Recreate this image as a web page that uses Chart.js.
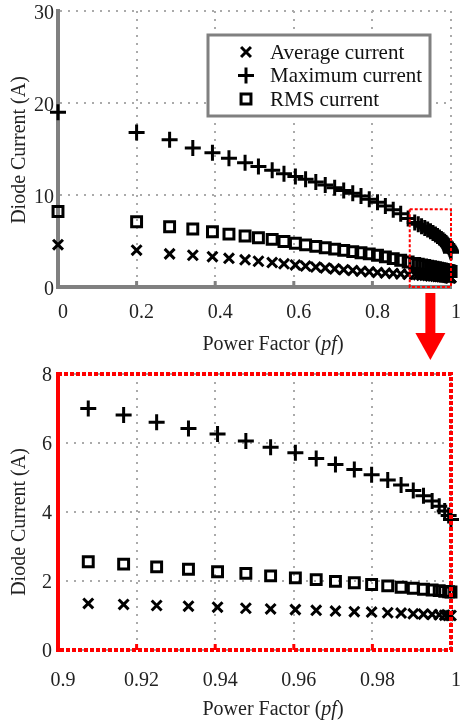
<!DOCTYPE html>
<html>
<head>
<meta charset="utf-8">
<script src="https://cdn.jsdelivr.net/npm/chart.js@4.4.1/dist/chart.umd.min.js"></script>
<style>
  html, body { margin: 0; padding: 0; background: #fff; }
  #wrap { position: relative; width: 462px; height: 724px; overflow: hidden; }
  canvas { position: absolute; left: 0; }
  .title {
    position: absolute;
    font-family: 'Liberation Serif', 'Times New Roman', serif;
    font-size: 20px;
    color: #222;
    white-space: nowrap;
    line-height: 1;
    transform: translate(-50%, -50%);
  }
  .title.rot { transform: translate(-50%, -50%) rotate(-90deg); }
</style>
</head>
<body>
<div id="wrap">
  <canvas id="chart-full" width="462" height="362" style="top:0"></canvas>
  <canvas id="chart-zoom" width="462" height="362" style="top:362px"></canvas>
  <div class="title rot" style="left:18px; top:150px">Diode Current (A)</div>
  <div class="title" style="left:273px; top:343px">Power Factor (<i>pf</i>)</div>
  <div class="title rot" style="left:18px; top:522px">Diode Current (A)</div>
  <div class="title" style="left:273px; top:708px">Power Factor (<i>pf</i>)</div>
</div>
<script>
// --- data ---
const SERIES = ['Average current', 'Maximum current', 'RMS current'];

// pf < 0.9 (coarse steps, only in the full-range plot)
const pfCoarse  = [0, 0.2, 0.284, 0.343, 0.393, 0.435, 0.476, 0.51, 0.545, 0.575, 0.604, 0.63,
                   0.656, 0.68, 0.704, 0.727, 0.75, 0.771, 0.792, 0.813, 0.833, 0.853, 0.872, 0.891];
const avgCoarse = [4.6, 4.0, 3.6, 3.45, 3.3, 3.12, 2.95, 2.8, 2.66, 2.52, 2.4, 2.28,
                   2.17, 2.07, 1.97, 1.88, 1.8, 1.72, 1.65, 1.58, 1.52, 1.47, 1.42, 1.38];
const maxCoarse = [19.0, 16.8, 16.0, 15.1, 14.6, 14.0, 13.5, 13.1, 12.7, 12.3, 12.0, 11.7,
                   11.4, 11.1, 10.8, 10.5, 10.2, 9.9, 9.55, 9.2, 8.8, 8.4, 7.95, 7.45];
const rmsCoarse = [8.2, 7.1, 6.55, 6.3, 6.0, 5.75, 5.54, 5.36, 5.18, 4.95, 4.75, 4.58,
                   4.42, 4.27, 4.12, 3.98, 3.84, 3.72, 3.6, 3.45, 3.27, 3.08, 2.9, 2.72];

// 0.9 <= pf <= 1 (fine steps, shown in both plots)
const pfFine  = [0.9077, 0.9167, 0.9251, 0.9332, 0.9406, 0.9478, 0.9541, 0.9604, 0.9657, 0.9706, 0.9754,
                 0.9798, 0.9839, 0.9873, 0.9904, 0.993, 0.9952, 0.997, 0.9984, 0.9994, 1.0];
const avgFine = [1.35, 1.32, 1.29, 1.27, 1.24, 1.21, 1.19, 1.17, 1.15, 1.13, 1.11,
                 1.1, 1.08, 1.07, 1.05, 1.04, 1.03, 1.02, 1.01, 1.0, 1.0];
const maxFine = [7.0, 6.81, 6.6, 6.42, 6.26, 6.06, 5.88, 5.72, 5.55, 5.38, 5.23,
                 5.08, 4.93, 4.78, 4.62, 4.47, 4.32, 4.17, 4.03, 3.9, 3.78];
const rmsFine = [2.56, 2.49, 2.41, 2.34, 2.27, 2.22, 2.15, 2.09, 2.04, 1.99, 1.95,
                 1.9, 1.86, 1.82, 1.79, 1.76, 1.74, 1.72, 1.7, 1.69, 1.68];

const xTicksFull = [0, 0.2, 0.4, 0.6, 0.8, 1];
const yTicksFull = [0, 10, 20, 30];
const xTicksZoom = [0.9, 0.92, 0.94, 0.96, 0.98, 1];
const yTicksZoom = [0, 2, 4, 6, 8];

// region of the full plot that is blown up below
const zoomRegion = { xMin: 0.895, xMax: 1, yMin: 0, yMax: 8.45 };

// --- look ---
const FONT = "'Liberation Serif', 'Times New Roman', serif";
const GRID = { color: '#aaa', lineWidth: 2, drawTicks: false };
const AXIS_GRAY = '#808080';
const RED = '#ff0000';

const pts = (xs, ys) => xs.map((x, i) => ({ x, y: ys[i] }));
const fixTicks = arr => scale => { scale.ticks = arr.map(v => ({ value: v })); };

function seriesSets(pf, avg, max, rms) {
  const common = {
    pointBorderColor: '#000',
    pointBackgroundColor: 'rgba(0,0,0,0)',
    pointBorderWidth: 3,
    showLine: false,
    clip: false,
  };
  return [
    { ...common, label: SERIES[0], data: pts(pf, avg), pointStyle: 'crossRot', pointRadius: 7 },
    { ...common, label: SERIES[1], data: pts(pf, max), pointStyle: 'cross', pointRadius: 8 },
    { ...common, label: SERIES[2], data: pts(pf, rms), pointStyle: 'rect', pointRadius: 7 },
  ];
}

// small ticks pointing into the plot on the bottom axis
const innerTicks = {
  id: 'innerTicks',
  afterDraw(chart, args, opts) {
    const { ctx, chartArea: a, scales: { x } } = chart;
    ctx.save();
    ctx.strokeStyle = opts.color;
    ctx.lineWidth = 3;
    x.ticks.forEach(t => {
      const px = x.getPixelForValue(t.value);
      if (px <= a.left + 2 || px >= a.right - 2) return;
      ctx.beginPath();
      ctx.moveTo(px, a.bottom);
      ctx.lineTo(px, a.bottom - 6);
      ctx.stroke();
    });
    ctx.restore();
  }
};

// legend drawn as a framed box inside the plot
const boxLegend = {
  id: 'boxLegend',
  afterDraw(chart, args, opts) {
    if (!opts.box) return;
    const { ctx } = chart;
    const b = opts.box;
    ctx.save();
    ctx.fillStyle = '#fff';
    ctx.fillRect(b.left, b.top, b.width, b.height);
    ctx.strokeStyle = AXIS_GRAY;
    ctx.lineWidth = 3;
    ctx.strokeRect(b.left, b.top, b.width, b.height);
    ctx.font = `${opts.fontSize}px ${FONT}`;
    ctx.textBaseline = 'middle';
    chart.data.datasets.forEach((ds, i) => {
      const cy = b.top + opts.firstRow + i * opts.rowGap;
      const cx = b.left + opts.markerX;
      ctx.save();
      ctx.strokeStyle = '#000';
      ctx.fillStyle = 'rgba(0,0,0,0)';
      ctx.lineWidth = ds.pointBorderWidth;
      Chart.helpers.drawPoint(ctx, {
        pointStyle: ds.pointStyle, radius: ds.pointRadius,
        borderWidth: ds.pointBorderWidth, rotation: 0
      }, cx, cy);
      ctx.restore();
      ctx.fillStyle = '#111';
      ctx.fillText(ds.label, b.left + opts.textX, cy + 1);
    });
    ctx.restore();
  }
};

// dashed red box around the zoomed region + arrow pointing down
const zoomMark = {
  id: 'zoomMark',
  afterDraw(chart, args, opts) {
    if (!opts.region) return;
    const { ctx, chartArea: a, scales: { x, y } } = chart;
    const r = opts.region;
    const x0 = x.getPixelForValue(r.xMin), x1 = x.getPixelForValue(r.xMax);
    const y0 = y.getPixelForValue(r.yMax), y1 = y.getPixelForValue(r.yMin);
    ctx.save();
    ctx.strokeStyle = RED;
    ctx.lineWidth = 2;
    ctx.setLineDash([3, 2]);
    ctx.strokeRect(x0, y0, x1 - x0, y1 - y0);
    ctx.setLineDash([]);
    const cx = (x0 + x1) / 2;
    const top = a.bottom + 6, neck = a.bottom + 46, tip = a.bottom + 73;
    ctx.fillStyle = RED;
    ctx.fillRect(cx - 5, top, 10, neck - top);
    ctx.beginPath();
    ctx.moveTo(cx - 15, neck);
    ctx.lineTo(cx + 15, neck);
    ctx.lineTo(cx, tip);
    ctx.closePath();
    ctx.fill();
    ctx.restore();
  }
};

// red dotted frame around the zoomed plot
const redFrame = {
  id: 'redFrame',
  afterDraw(chart, args, opts) {
    if (!opts.on) return;
    const { ctx, chartArea: a } = chart;
    ctx.save();
    ctx.strokeStyle = RED;
    ctx.lineWidth = 4;
    ctx.beginPath();
    ctx.moveTo(a.left, a.bottom + 2);
    ctx.lineTo(a.left, a.top - 2);
    ctx.stroke();
    ctx.setLineDash([4, 2]);
    ctx.beginPath();
    ctx.moveTo(a.left, a.top);
    ctx.lineTo(a.right, a.top);
    ctx.lineTo(a.right, a.bottom);
    ctx.lineTo(a.left, a.bottom);
    ctx.stroke();
    ctx.restore();
  }
};

function makeChart(id, cfg) {
  return new Chart(document.getElementById(id), {
    type: 'scatter',
    data: { datasets: cfg.datasets },
    plugins: [redFrame, innerTicks, zoomMark, boxLegend],
    options: {
      responsive: false,
      animation: false,
      events: [],
      layout: { padding: { top: cfg.padTop, right: 8, left: 0, bottom: 0 } },
      plugins: {
        legend: { display: false },
        tooltip: { enabled: false },
        innerTicks: { color: cfg.tickColor },
        boxLegend: cfg.legend || {},
        zoomMark: { region: cfg.region },
        redFrame: { on: !!cfg.frame },
      },
      scales: {
        x: {
          type: 'linear',
          min: cfg.xMin, max: cfg.xMax,
          afterBuildTicks: fixTicks(cfg.xTicks),
          // fixed axis band; labels may hang over the edges like in the figure
          afterFit: s => { s.height = cfg.xAxisH; s.paddingLeft = 0; s.paddingRight = 0; },
          grid: GRID,
          border: { display: !cfg.frame, color: AXIS_GRAY, width: 4, dash: [2, 6] },
          ticks: {
            font: { family: FONT, size: 20 }, color: '#222',
            padding: cfg.xPad, labelOffset: 5, maxRotation: 0,
            callback: v => String(+v.toFixed(2)),
          },
        },
        y: {
          type: 'linear',
          min: cfg.yMin, max: cfg.yMax,
          afterBuildTicks: fixTicks(cfg.yTicks),
          afterFit: s => { s.width = 58; s.paddingTop = 0; s.paddingBottom = 0; },
          grid: GRID,
          border: { display: !cfg.frame, color: AXIS_GRAY, width: 4, dash: [2, 6] },
          ticks: {
            font: { family: FONT, size: 20 }, color: '#222',
            padding: cfg.yPad, labelOffset: cfg.yLabelOffset,
            callback: v => String(v),
          },
        },
      },
    },
  });
}

makeChart('chart-full', {
  datasets: seriesSets(pfCoarse.concat(pfFine), avgCoarse.concat(avgFine),
                       maxCoarse.concat(maxFine), rmsCoarse.concat(rmsFine)),
  xMin: 0, xMax: 1, yMin: 0, yMax: 30,
  xTicks: xTicksFull, yTicks: yTicksFull,
  padTop: 11, xAxisH: 75, xPad: 14, yPad: 4, yLabelOffset: 3,
  tickColor: AXIS_GRAY,
  region: zoomRegion,
  legend: {
    box: { left: 208, top: 35, width: 222, height: 81 },
    firstRow: 17, rowGap: 23.5, markerX: 38, textX: 62, fontSize: 21,
  },
});

makeChart('chart-zoom', {
  datasets: seriesSets(pfFine, avgFine, maxFine, rmsFine),
  xMin: 0.9, xMax: 1, yMin: 0, yMax: 8,
  xTicks: xTicksZoom, yTicks: yTicksZoom,
  padTop: 12, xAxisH: 74, xPad: 19, yPad: 6, yLabelOffset: 2,
  tickColor: RED,
  frame: true,
});
</script>
</body>
</html>
